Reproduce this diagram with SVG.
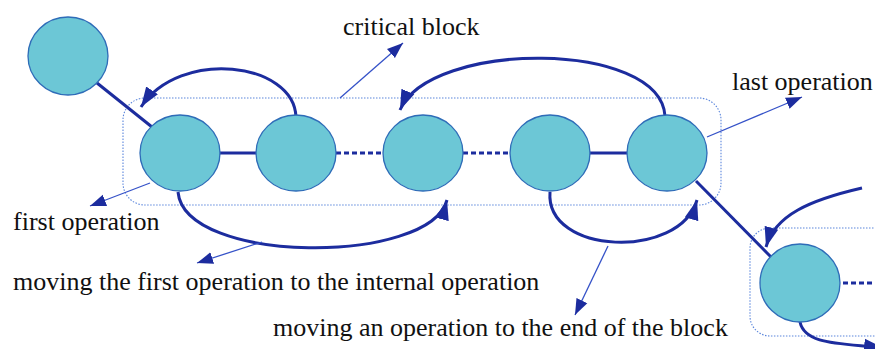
<svg xmlns="http://www.w3.org/2000/svg" width="875" height="349" viewBox="0 0 875 349">
<defs>
<style>
.node{fill:#6cc7d6;stroke:#2e6cb8;stroke-width:1.3}
.blk{fill:none;stroke:#5b86dc;stroke-width:1.1;stroke-dasharray:1.5 1.5}
.link{stroke:#1c2c9e;stroke-width:3;fill:none}
.dash{stroke:#1c2c9e;stroke-width:3;fill:none;stroke-dasharray:5 3}
.arc{stroke:#1c2c9e;stroke-width:3;fill:none;marker-end:url(#big)}
.thin{stroke:#3552c8;stroke-width:1.3;fill:none;marker-end:url(#small)}
text{font-family:"Liberation Serif","Times New Roman",serif;font-size:26px;fill:#111}
</style>
<marker id="big" markerUnits="userSpaceOnUse" markerWidth="22" markerHeight="16" refX="20" refY="8" orient="auto">
<path d="M0,1 L20,8 L0,15 Z" fill="#1c2c9e"/>
</marker>
<marker id="small" markerUnits="userSpaceOnUse" markerWidth="18" markerHeight="14" refX="16" refY="7" orient="auto">
<path d="M0,1 L16,7 L0,13 Z" fill="#1c2c9e"/>
</marker>
</defs>
<g id="blocks">
<rect class="blk" x="123" y="98" width="598" height="107" rx="22"/>
<rect class="blk" x="750" y="228" width="150" height="108" rx="20"/>
</g>
<g id="connectors">
<line class="link" x1="97" y1="83" x2="152" y2="127"/>
<line class="link" x1="218" y1="153" x2="258" y2="153"/>
<line class="dash" x1="336" y1="153" x2="383" y2="153"/>
<line class="dash" x1="463" y1="153" x2="509" y2="153"/>
<line class="link" x1="588" y1="153" x2="629" y2="153"/>
<line class="dash" x1="843" y1="283" x2="872" y2="283"/>
<line class="link" x1="696" y1="181" x2="771" y2="257"/>
<path class="arc" d="M296,117 C294,62 180,48 141,107"/>
<path class="arc" d="M665,116 C660,40 430,40 400,110"/>
<path class="arc" d="M178,192 C185,265 430,265 447,200"/>
<path class="arc" d="M550,192 C545,255 680,260 697,200"/>
<path class="arc" d="M862,188 C810,200 775,215 766,247"/>
<path class="arc" d="M800,322 C805,345 840,343 884,348"/>
<line class="thin" x1="340" y1="98" x2="403" y2="43"/>
<line class="thin" x1="707" y1="137" x2="802" y2="97"/>
<line class="thin" x1="150" y1="183" x2="90" y2="206"/>
<line class="thin" x1="262" y1="242" x2="197" y2="263"/>
<line class="thin" x1="608" y1="246" x2="575" y2="315"/>
</g>
<g id="n0"><ellipse class="node" cx="68" cy="56" rx="40" ry="39"/></g>
<g id="n1"><ellipse class="node" cx="180" cy="153" rx="40" ry="38"/></g>
<g id="n2"><ellipse class="node" cx="296" cy="153" rx="40" ry="38"/></g>
<g id="n3"><ellipse class="node" cx="423" cy="153" rx="40" ry="38"/></g>
<g id="n4"><ellipse class="node" cx="550" cy="153" rx="40" ry="38"/></g>
<g id="n5"><ellipse class="node" cx="667" cy="153" rx="40" ry="38"/></g>
<g id="n6"><ellipse class="node" cx="800" cy="283" rx="40" ry="39"/></g>
<g id="labels">
<text x="343" y="35">critical block</text>
<text x="732" y="90">last operation</text>
<text x="13" y="230">first operation</text>
<text x="13" y="290">moving the first operation to the internal operation</text>
<text x="273" y="336">moving an operation to the end of the block</text>
</g>
</svg>
